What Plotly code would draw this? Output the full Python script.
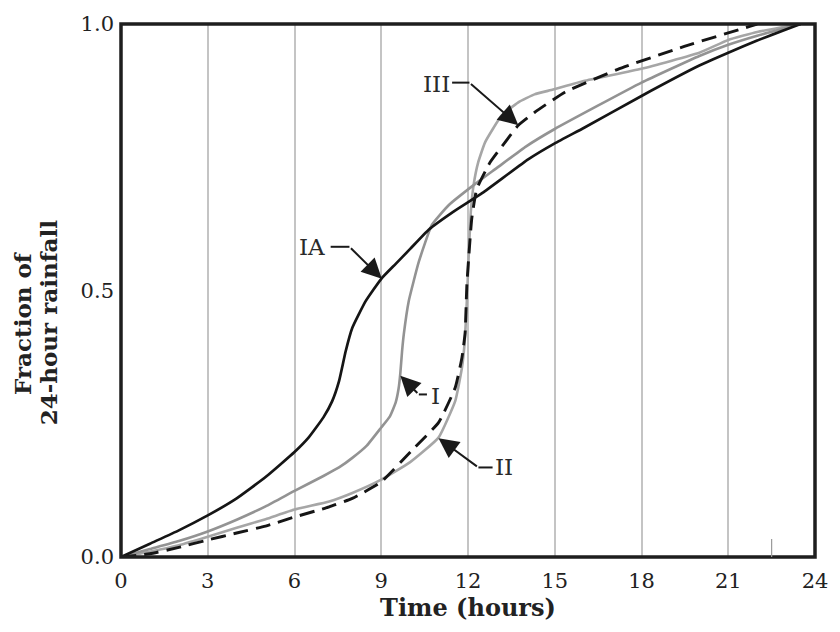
import plotly.graph_objects as go

# ---- data ----
t_IA = [0, 1, 2, 3, 4, 5, 6, 6.5, 7, 7.3, 7.54, 7.77, 8.0, 8.46, 9, 9.5, 10, 10.64, 11.5, 12.5, 14.08, 15, 16, 18, 20, 21, 22, 23.5]
f_IA = [0, 0.025, 0.05, 0.078, 0.11, 0.15, 0.197, 0.225, 0.262, 0.292, 0.33, 0.386, 0.43, 0.48, 0.522, 0.55, 0.578, 0.614, 0.648, 0.683, 0.746, 0.776, 0.805, 0.865, 0.922, 0.946, 0.969, 1.0]

t_I = [0, 1, 2, 3, 4, 5, 6, 7, 7.54, 8, 8.5, 9, 9.3, 9.5, 9.6, 9.66, 9.72, 9.78, 9.95, 10.3, 10.75, 11.33, 12.25, 13, 14, 15, 18, 20, 21, 22, 23.5]
f_I = [0, 0.015, 0.03, 0.048, 0.07, 0.095, 0.124, 0.152, 0.168, 0.186, 0.209, 0.243, 0.264, 0.29, 0.316, 0.345, 0.386, 0.418, 0.48, 0.554, 0.623, 0.66, 0.70, 0.73, 0.77, 0.803, 0.89, 0.94, 0.961, 0.978, 1.0]

t_II = [0, 1, 2, 3, 4, 5, 6, 7.2, 8, 9, 10, 10.98, 11.56, 11.79, 11.88, 11.96, 12.02, 12.1, 12.2, 12.35, 12.59, 13.16, 13.74, 14.3, 14.94, 16, 18, 20, 21, 22, 23.5]
f_II = [0, 0.01, 0.022, 0.038, 0.055, 0.071, 0.089, 0.104, 0.12, 0.145, 0.178, 0.224, 0.293, 0.355, 0.40, 0.48, 0.56, 0.65, 0.70, 0.74, 0.778, 0.828, 0.853, 0.868, 0.877, 0.893, 0.916, 0.946, 0.97, 0.985, 1.0]

t_III = [0, 1, 2, 3, 4, 5, 6, 7.2, 8, 8.98, 10.06, 10.98, 11.56, 11.79, 11.9, 11.96, 12.13, 12.3, 12.76, 13.28, 13.74, 14.3, 15.35, 17.18, 19.48, 21.77, 22]
f_III = [0, 0.006, 0.018, 0.032, 0.045, 0.058, 0.075, 0.094, 0.11, 0.14, 0.2, 0.252, 0.318, 0.374, 0.42, 0.51, 0.635, 0.69, 0.74, 0.778, 0.81, 0.834, 0.872, 0.915, 0.958, 0.996, 1.0]

x_ticks = [0, 3, 6, 9, 12, 15, 18, 21, 24]
y_ticks = [0.0, 0.5, 1.0]
y_tick_text = ["0.0", "0.5", "1.0"]

# label: (text, text_x, text_y, leader_start_x, bend_x, bend_y, tip_x, tip_y)
labels = [
    ("IA", 6.62, 0.582, 7.25, 7.9, 0.582, 9.02, 0.522),
    ("III", 10.9, 0.887, 11.45, 12.05, 0.89, 13.74, 0.81),
    ("I", 10.88, 0.302, 10.58, 10.3, 0.305, 9.66, 0.34),
    ("II", 13.25, 0.168, 12.85, 12.36, 0.168, 10.98, 0.223),
]

FONT = "DejaVu Serif"
INK = "#1a1a1a"

fig = go.Figure()
fig.add_trace(go.Scatter(x=t_II, y=f_II, mode="lines",
                         line=dict(color="#a6a6a6", width=2.6, shape="spline", smoothing=0.4)))
fig.add_trace(go.Scatter(x=t_I, y=f_I, mode="lines",
                         line=dict(color="#939393", width=2.6, shape="spline", smoothing=0.4)))
fig.add_trace(go.Scatter(x=t_IA, y=f_IA, mode="lines",
                         line=dict(color="#151515", width=2.7, shape="spline", smoothing=0.4)))
fig.add_trace(go.Scatter(x=t_III, y=f_III, mode="lines",
                         line=dict(color="#151515", width=2.9, dash="15px,8px", shape="spline", smoothing=0.4)))

shapes = []
# frame
shapes.append(dict(type="rect", xref="paper", yref="paper", x0=0, y0=0, x1=1, y1=1,
                   line=dict(color="#1e1e1e", width=3.5), layer="above"))
# small tick near bottom right
shapes.append(dict(type="line", xref="x", yref="y", x0=22.5, x1=22.5, y0=0, y1=0.034,
                   line=dict(color="#9a9a9a", width=1.2)))
annotations = []
for text, tx, ty, hx0, bx, by, px, py in labels:
    shapes.append(dict(type="line", xref="x", yref="y", x0=hx0, x1=bx, y0=by, y1=by,
                       line=dict(color=INK, width=2)))
    annotations.append(dict(x=px, y=py, xref="x", yref="y", ax=bx, ay=by, axref="x", ayref="y",
                            text="", showarrow=True, arrowhead=2, arrowsize=2.0, arrowwidth=2,
                            arrowcolor=INK, standoff=0))
    annotations.append(dict(x=tx, y=ty, xref="x", yref="y", text=text, showarrow=False,
                            xanchor="center", yanchor="middle",
                            font=dict(family=FONT, size=23, color="#2a2a2a")))

# y-axis title as two rotated lines
annotations.append(dict(x=-0.142, y=0.44, xref="paper", yref="paper", text="<b>Fraction of</b>",
                        xanchor="center", yanchor="middle",
                        textangle=-90, showarrow=False, font=dict(family=FONT, size=23, color="#222")))
annotations.append(dict(x=-0.104, y=0.44, xref="paper", yref="paper", text="<b>24-hour rainfall</b>",
                        xanchor="center", yanchor="middle",
                        textangle=-90, showarrow=False, font=dict(family=FONT, size=23, color="#222")))

fig.update_layout(
    width=840, height=632,
    margin=dict(l=121, r=22, t=21, b=75),
    paper_bgcolor="white", plot_bgcolor="white",
    showlegend=False,
    shapes=shapes, annotations=annotations,
    xaxis=dict(range=[0, 24], tickvals=x_ticks, showgrid=True, gridcolor="#c4c4c4", gridwidth=1.5,
               zeroline=False, showline=False, ticks="", ticklabelstandoff=9,
               tickfont=dict(family=FONT, size=21, color="#222"),
               title=dict(text="<b>Time (hours)</b>", font=dict(family=FONT, size=24, color="#222"), standoff=4)),
    yaxis=dict(range=[0, 1], tickvals=y_ticks, ticktext=y_tick_text, showgrid=False,
               zeroline=False, showline=False, ticks="", ticklabelstandoff=6,
               tickfont=dict(family=FONT, size=21, color="#222")),
)

fig.write_html("out.html")
